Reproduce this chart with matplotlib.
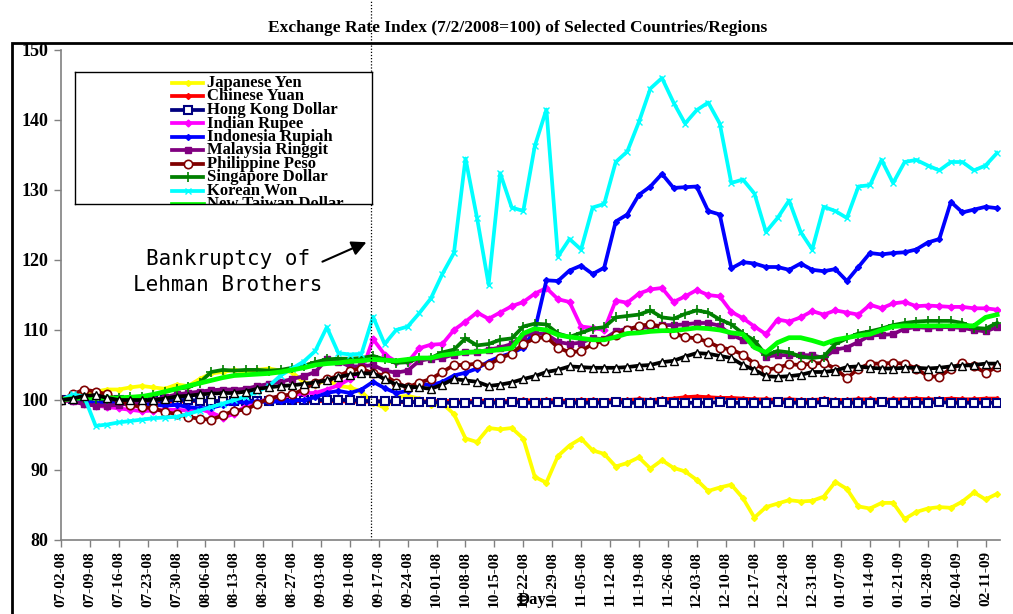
import numpy as np
import matplotlib
matplotlib.use("Agg")
import matplotlib.pyplot as plt
from matplotlib.patches import Rectangle

# trading-day index of every second observation (5 trading days per week)
day = np.arange(0, 163, 2)

week_labels = ['07-02-08', '07-09-08', '07-16-08', '07-23-08', '07-30-08', '08-06-08',
               '08-13-08', '08-20-08', '08-27-08', '09-03-08', '09-10-08', '09-17-08',
               '09-24-08', '10-01-08', '10-08-08', '10-15-08', '10-22-08', '10-29-08',
               '11-05-08', '11-12-08', '11-19-08', '11-26-08', '12-03-08', '12-10-08',
               '12-17-08', '12-24-08', '12-31-08', '01-07-09', '01-14-09', '01-21-09',
               '01-28-09', '02-04-09', '02-11-09']

yen = [100.0, 100.5, 100.8, 101.2, 101.5, 101.5, 101.8, 102.0, 101.8, 101.6,
       102.2, 102.0, 103.0, 103.8, 104.0, 104.3, 104.0, 104.3, 104.5, 104.2,
       104.0, 102.5, 102.2, 102.9, 102.0, 101.8, 101.2, 99.6, 98.9, 100.4,
       100.6, 100.2, 99.3, 99.5, 98.0, 94.5, 94.0, 96.0, 95.8, 96.0,
       94.5, 89.0, 88.2, 92.0, 93.5, 94.5, 92.8, 92.3, 90.5, 91.0,
       91.8, 90.2, 91.4, 90.3, 89.8, 88.6, 87.0, 87.5, 87.9, 86.0,
       83.2, 84.7, 85.2, 85.7, 85.5, 85.6, 86.2, 88.3, 87.3, 84.8,
       84.5, 85.3, 85.3, 83.0, 84.0, 84.5, 84.7, 84.6, 85.5, 86.8,
       85.8, 86.6]
yuan = [100.0, 99.9, 99.9, 99.8, 99.8, 99.8,
        99.7, 99.8, 99.8, 99.7, 99.8, 99.8, 99.9, 99.8, 99.8, 99.8,
        99.9, 99.8, 99.8, 99.9, 99.9, 99.8, 99.8, 99.9, 99.8, 99.8,
        99.7, 99.8, 99.8, 99.7, 99.7, 99.8, 99.8, 99.9, 99.8, 99.8,
        99.9, 99.9, 99.8, 99.9, 100.0, 99.9, 100.0, 99.9, 99.9, 100.0,
        100.0, 99.9, 100.0, 100.0, 100.1, 100.0, 100.1, 100.2,
        100.4, 100.5, 100.4, 100.3, 100.3, 100.2, 100.1,
        100.1, 100.0, 100.1, 100.0, 100.0, 100.1, 100.0, 100.0, 100.1, 100.1,
        100.0, 100.1, 100.1, 100.2, 100.1, 100.1, 100.2, 100.1, 100.1, 100.2,
        100.2]
hkd = [100.0, 100.1, 100.1, 100.0, 100.0, 100.0, 99.9, 99.9, 99.9, 100.0,
       100.0, 100.0, 99.9, 99.9, 99.8, 99.8, 99.9, 99.9, 99.9, 100.0,
       100.0, 100.0, 100.0, 100.0, 100.0, 100.0,
       99.9, 99.8, 99.8, 99.8, 99.7, 99.7, 99.7, 99.6, 99.6, 99.6,
       99.7, 99.6, 99.6, 99.7, 99.6, 99.6, 99.6, 99.7, 99.6, 99.6,
       99.6, 99.6, 99.7, 99.6, 99.6, 99.6, 99.7, 99.6, 99.6, 99.6,
       99.6, 99.7, 99.6, 99.6, 99.6, 99.6, 99.7, 99.6, 99.6, 99.6,
       99.7, 99.6, 99.6, 99.6, 99.6, 99.7, 99.6, 99.6, 99.6, 99.6,
       99.7, 99.6, 99.6, 99.6, 99.6, 99.6]
rupee = [100.0, 99.8, 99.4, 99.2, 99.0, 98.8, 98.6, 98.4, 98.5, 98.6,
         98.6, 98.5, 98.7, 98.2, 97.5, 98.0, 99.2, 99.6, 100.2, 100.5,
         100.6, 101.0, 101.0, 101.5, 102.1, 103.0, 104.0, 108.7, 106.5, 105.5,
         105.4, 107.4, 107.9, 108.0, 110.0, 111.2, 112.5, 111.6, 112.5, 113.4,
         114.0, 115.2, 116.0, 114.4, 114.0, 110.5, 110.3, 110.0, 114.2, 113.9,
         115.2, 115.8, 116.0, 114.0, 114.8, 115.7, 115.0, 114.8, 112.6, 111.7,
         110.5, 109.4, 111.5, 111.2, 111.8, 112.7, 112.2, 112.8, 112.5, 112.2,
         113.6, 113.1, 113.8, 114.0, 113.4, 113.5, 113.4, 113.3, 113.3, 113.1,
         113.1, 112.9]
rupiah = [100.0, 100.2, 99.8, 99.6, 99.5, 99.5, 99.6, 99.4, 99.3, 99.2,
          99.3, 99.0, 98.8, 98.9, 99.3, 99.6, 99.7, 99.8, 99.7, 99.8,
          99.9, 100.0, 100.4, 101.0, 101.3, 101.0, 101.5, 102.6, 101.7, 101.0,
          101.3, 102.4, 102.1, 102.6, 103.5, 103.9, 104.5, 105.5, 106.2, 106.7,
          107.5, 110.0, 117.1, 117.0, 118.5, 119.2, 118.0, 118.9, 125.5, 126.5,
          129.3, 130.5, 132.3, 130.3, 130.4, 130.5, 127.0, 126.5, 118.8, 119.7,
          119.5, 119.0, 119.0, 118.6, 119.5, 118.6, 118.4, 118.7, 117.0, 119.0,
          121.0, 120.8, 121.0, 121.1, 121.5, 122.5, 123.0, 128.3, 126.8, 127.2,
          127.6, 127.4]
ringgit = [100.0, 99.8, 99.4, 99.2, 99.2, 99.3, 99.5, 99.8, 100.0, 100.4,
           100.8, 101.0, 101.2, 101.4, 101.5, 101.5, 101.6, 102.0, 102.3, 102.6,
           103.0, 103.4, 104.0, 105.8, 105.5, 104.8, 104.8, 105.0, 104.2, 103.9,
           104.2, 105.6, 105.9, 106.0, 106.5, 106.8, 106.8, 107.2, 107.5, 108.0,
           109.2, 109.5, 109.4, 108.3, 108.0, 108.2, 108.8, 108.7, 109.8, 110.2,
           110.3, 110.4, 110.7, 110.7, 110.8, 111.0, 111.0, 110.6, 109.3, 108.6,
           108.0, 106.2, 106.4, 106.4, 106.4, 106.4, 106.0, 107.2, 107.5, 108.3,
           109.2, 109.3, 109.4, 110.2, 110.4, 110.3, 110.4, 110.4, 110.3, 110.0,
           109.8, 110.4]
peso = [100.0, 100.8, 101.5, 101.2, 100.8, 100.0, 99.3, 99.0, 98.8, 98.3,
        98.0, 97.6, 97.3, 97.2, 97.8, 98.5, 98.6, 99.5, 100.2, 100.6,
        100.8, 101.5, 102.5, 103.0, 103.4, 104.2, 104.5, 103.8, 103.5, 102.5,
        101.8, 102.5, 103.0, 104.0, 105.0, 105.0, 105.2, 105.0, 106.0, 106.6,
        108.0, 108.8, 109.0, 107.5, 106.8, 107.0, 108.0, 108.5, 109.3, 110.0,
        110.6, 110.8, 110.5, 109.5, 109.0, 108.8, 108.3, 107.5, 107.2, 106.5,
        105.2, 104.3, 104.6, 105.1, 105.0, 105.2, 105.3, 104.5, 103.1, 104.5,
        105.2, 105.2, 105.3, 105.2, 104.5, 103.4, 103.3, 104.5, 105.3, 104.8,
        103.9, 104.7]
sgd = [100.0, 100.3, 100.3, 100.2, 100.2, 100.3, 100.4, 100.5, 100.7, 101.2,
       101.6, 101.8, 102.5, 104.0, 104.3, 104.2, 104.3, 104.3, 104.2, 104.3,
       104.6, 104.9, 105.4, 105.8, 105.9, 105.9, 106.0, 106.3, 105.8, 105.3,
       105.4, 106.0, 106.0, 106.8, 107.2, 108.8, 107.8, 108.0, 108.6, 108.8,
       110.5, 110.9, 110.8, 109.5, 109.0, 109.6, 110.2, 110.4, 111.8, 112.0,
       112.2, 112.8, 111.8, 111.6, 112.3, 112.8, 112.5, 111.5, 110.8, 109.5,
       108.5, 106.4, 107.0, 106.8, 106.2, 106.0, 106.2, 108.0, 108.8, 109.5,
       109.8, 110.2, 110.7, 111.0, 111.2, 111.3, 111.3, 111.3, 111.0, 110.3,
       110.2, 111.0]
won = [100.0, 100.8, 100.5, 96.3, 96.5, 96.8, 97.0, 97.2, 97.4, 97.5,
       97.6, 98.0, 98.5, 99.0, 99.5, 100.0, 100.5, 101.2, 102.0, 103.5,
       104.5, 105.5, 107.0, 110.4, 106.7, 106.5, 106.6, 111.9, 108.0, 110.0,
       110.5, 112.4, 114.5, 118.0, 121.0, 134.5, 126.0, 116.5, 132.4, 127.5,
       127.0, 136.3, 141.5, 120.5, 123.0, 121.5, 127.5, 128.0, 134.0, 135.5,
       139.7, 144.5, 146.0, 142.5, 139.5, 141.4, 142.5, 139.5, 131.0, 131.5,
       129.5, 124.0, 126.0, 128.5, 124.0, 121.5, 127.6, 127.0, 126.0, 130.5,
       130.7, 134.3, 131.0, 134.0, 134.3, 133.5, 132.8, 134.0, 134.0, 132.8,
       133.5, 135.3]
twd = [100.0, 100.2, 100.3, 100.3, 100.3, 100.3, 100.4, 100.5, 100.8, 101.2,
       101.6, 102.0, 102.4, 102.8, 103.2, 103.5, 103.6, 103.7, 103.8, 104.0,
       104.3, 104.6, 105.0, 105.2, 105.3, 105.5, 105.6, 105.8, 105.7, 105.6,
       105.8, 106.0, 106.0, 106.4, 106.6, 106.8, 106.9, 107.0, 107.2, 107.4,
       109.5, 110.2, 110.0, 109.3, 109.0, 108.8, 108.6, 108.6, 109.0, 109.5,
       109.6, 109.8, 109.9, 109.9, 110.1, 110.3, 110.2, 110.0, 109.6, 109.4,
       107.5, 106.8, 108.2, 108.9, 108.9, 108.5, 108.0, 108.6, 108.9, 109.2,
       109.4, 110.0, 110.5, 110.6, 110.6, 110.6, 110.6, 110.6, 110.6, 110.6,
       111.8, 112.2]
baht = [100.0, 100.2, 100.6, 100.7, 100.3, 100.0, 100.0, 100.0, 100.0, 100.2,
        100.5, 100.6, 100.8, 100.9, 101.0, 101.0, 101.2, 101.6, 101.8, 102.0,
        102.1, 102.3, 102.5, 102.8, 103.3, 103.6, 103.8, 103.8, 103.0, 102.2,
        101.9, 101.8, 101.6, 102.2, 103.0, 102.8, 102.6, 102.0, 102.2, 102.5,
        103.0, 103.4, 104.0, 104.3, 104.8, 104.7, 104.6, 104.6, 104.6, 104.7,
        104.9, 105.0, 105.4, 105.6, 106.2, 106.7, 106.6, 106.3, 106.0, 105.0,
        104.3, 103.4, 103.3, 103.4, 103.6, 104.0, 104.0, 104.2, 104.7, 104.8,
        104.6, 104.5, 104.5, 104.6, 104.6, 104.5, 104.6, 104.8, 104.9, 105.0,
        105.2, 105.2]

series = [
    ('Japanese Yen', yen, dict(color='#FFFF00', marker='D', ms=3)),
    ('Chinese Yuan', yuan, dict(color='#FF0000', marker='D', ms=3)),
    ('Hong Kong Dollar', hkd, dict(color='#000080', marker='s', ms=5.5, mfc='white', mew=1.5)),
    ('Indian Rupee', rupee, dict(color='#FF00FF', marker='D', ms=3.5)),
    ('Indonesia Rupiah', rupiah, dict(color='#0000FF', marker='D', ms=3)),
    ('Malaysia Ringgit', ringgit, dict(color='#800080', marker='s', ms=5)),
    ('Philippine Peso', peso, dict(color='#800000', marker='o', ms=6, mfc='white', mew=1.2)),
    ('Singapore Dollar', sgd, dict(color='#008000', marker='+', ms=7, mew=1.2)),
    ('Korean Won', won, dict(color='#00FFFF', marker='x', ms=5, mew=1)),
    ('New Taiwan Dollar', twd, dict(color='#00FF00', lw=3.4)),
    ('Thai Baht', baht, dict(color='#000000', marker='^', ms=6, mfc='white', mew=1)),
]

serif = 'Liberation Serif'
fig = plt.figure(figsize=(10.13, 6.14), dpi=100)
ax = fig.add_axes([61 / 1013, 1 - 540 / 614, 939 / 1013, 490 / 614])

for name, vals, st in series:
    kw = dict(lw=2.7)
    kw.update(st)
    ax.plot(day, vals, **kw)

ax.set_xlim(0, 162.5)
ax.set_ylim(80, 150)
ax.set_yticks(range(80, 151, 10))
ax.set_xticks(range(0, 161, 5))
ax.set_xticklabels(week_labels, rotation=90)
for lab in ax.get_xticklabels() + ax.get_yticklabels():
    lab.set_fontfamily(serif)
    lab.set_fontweight('bold')
for lab in ax.get_yticklabels():
    lab.set_fontsize(13)
for lab in ax.get_xticklabels():
    lab.set_fontsize(11)
ax.tick_params(axis='both', direction='out', length=5, color='#808080', width=1)
ax.tick_params(axis='x', pad=3)
ax.tick_params(axis='y', pad=4)
for s in ['top', 'right']:
    ax.spines[s].set_visible(False)
for s in ['left', 'bottom']:
    ax.spines[s].set_color('#808080')
    ax.spines[s].set_linewidth(1.2)

# Lehman bankruptcy marker
ax.axvline(53.6, ymin=0, ymax=1.105, color='black', lw=0.9, ls=(0, (1, 1.5)), clip_on=False)
ax.text(28.9, 118.3, 'Bankruptcy of\nLehman Brothers', family='DejaVu Sans Mono',
        fontsize=15, ha='center', va='center', multialignment='center', linespacing=1.35)
ax.annotate('', xy=(53.3, 122.7), xytext=(44.8, 119.6),
            arrowprops=dict(arrowstyle='-|>', color='black', lw=1.5, mutation_scale=22))

fig.text(518 / 1013, 1 - 28 / 614, 'Exchange Rate Index (7/2/2008=100) of Selected Countries/Regions',
         ha='center', va='center', fontsize=12.5, fontweight='bold', family=serif)
fig.text(532 / 1013, 1 - 600 / 614, 'Day', ha='center', va='center', fontsize=12,
         fontweight='bold', family=serif)

# legend box (last entries cut off by the box, as in the source)
lg = fig.add_axes([75 / 1013, 1 - 204 / 614, 297 / 1013, 132 / 614])
lg.set_xlim(0, 297)
lg.set_ylim(132, 0)
lg.set_xticks([])
lg.set_yticks([])
for s in lg.spines.values():
    s.set_color('black')
    s.set_linewidth(1)
for k, (name, vals, st) in enumerate(series):
    y = 11 + 13.5 * k
    kw = dict(lw=2.7)
    kw.update(st)
    lg.plot([97, 112.5, 128], [y, y, y], markevery=[1], **kw)
    lg.text(132, y, name, va='center', ha='left', fontsize=12, fontweight='bold',
            family=serif, clip_on=True)

# outer chart frame
fig.patches.append(Rectangle((12 / 1013, -0.05), 1.0, 0.05 + 1 - 43 / 614, transform=fig.transFigure,
                             fill=False, edgecolor='black', lw=2, zorder=10))

fig.savefig('out.png', dpi=100)
